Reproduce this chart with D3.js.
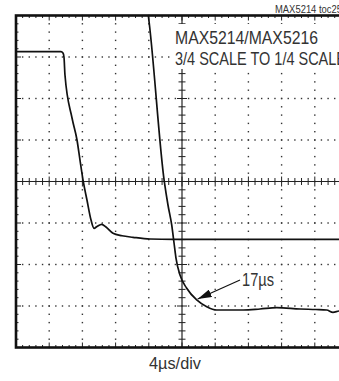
<!DOCTYPE html>
<html>
<head>
<meta charset="utf-8">
<script src="https://cdn.jsdelivr.net/npm/d3@7"></script>
<style>
  html, body { margin: 0; padding: 0; background: #fff; }
  svg { display: block; }
  .lbl { font-family: "Liberation Sans", Arial, sans-serif; fill: #333; }
</style>
</head>
<body>
<svg id="chart" width="339" height="381"></svg>
<script>
// Horizontal: 4 µs per division, 10 divisions. Vertical: 8 divisions.
const timeDomain = [0, 40];
const divDomain = [-4, 4];
const timePerDiv = 4;
const minorPerDiv = 5;

// Trace 1: output stepping from 3/4 to 1/4 scale (time µs, divisions)
const trace1Time = [0, 5.42, 5.66, 5.78, 5.90, 6.75, 7.35, 7.71, 8.11, 8.55, 9.04, 9.40, 9.76, 10.33, 10.84, 11.69, 12.77, 14.10, 16.14, 18.92, 30.0, 40];
const trace1Value = [3.128, 3.128, 3.096, 3.0, 2.566, 1.53, 1.0, 0.518, -0.005, -0.446, -0.928, -1.128, -1.084, -1.031, -1.096, -1.248, -1.308, -1.345, -1.386, -1.393, -1.393, -1.393];

// Trace 2: magnified settling waveform
const trace2Time = [15.80, 15.94, 17.87, 18.31, 18.76, 19.04, 19.28, 19.76, 20.57, 21.77, 22.98, 24.18, 27.38, 29.40, 31.41, 34.22, 36.14, 37.43, 38.19, 38.92, 40];
const trace2Value = [4.2, 4.0, -0.005, -0.566, -1.048, -1.482, -1.851, -2.253, -2.573, -2.855, -3.017, -3.096, -3.096, -3.072, -3.041, -3.072, -3.084, -3.096, -3.152, -3.120, -3.108];

// Settling-time annotation
const settleLabel = "17µs";
const arrowFrom = [26.99, -2.373];
const arrowTo = [21.89, -2.831];

const titleLines = ["MAX5214/MAX5216", "3/4 SCALE TO 1/4 SCALE"];
const figureTag = "MAX5214 toc25";
const xScaleLabel = "4µs/div";

const svg = d3.select("#chart");
const x = d3.scaleLinear().domain(timeDomain).range([16, 348]);
const y = d3.scaleLinear().domain(divDomain).range([347.5, 15.5]);

const [x0, x1] = x.range();
const [y1, y0] = y.range();

svg.append("defs").append("clipPath").attr("id", "plot")
  .append("rect").attr("x", x0).attr("y", y0).attr("width", x1 - x0).attr("height", y1 - y0);

const majorT = d3.range(timeDomain[0], timeDomain[1] + 0.001, timePerDiv);
const majorV = d3.range(divDomain[0], divDomain[1] + 0.001, 1);
const minorT = d3.range(0, 10 * minorPerDiv + 1).map(i => i * timePerDiv / minorPerDiv);
const minorV = d3.range(0, 8 * minorPerDiv + 1).map(i => divDomain[0] + i / minorPerDiv);

const grid = svg.append("g").attr("fill", "#333");
// dotted horizontal grid lines
majorV.filter(v => v !== 0 && v !== divDomain[0] && v !== divDomain[1]).forEach(v => {
  grid.selectAll(null).data(minorT).enter().append("rect")
    .attr("x", d => x(d) - 0.7).attr("y", y(v) - 0.7).attr("width", 1.4).attr("height", 1.4);
});
// dotted vertical grid lines
majorT.filter(t => t !== 20 && t !== timeDomain[0] && t !== timeDomain[1]).forEach(t => {
  grid.selectAll(null).data(minorV).enter().append("rect")
    .attr("x", x(t) - 0.7).attr("y", d => y(d) - 0.7).attr("width", 1.4).attr("height", 1.4);
});

const axes = svg.append("g").attr("stroke", "#222").attr("fill", "none");
const isMajorT = t => Math.abs(t / timePerDiv - Math.round(t / timePerDiv)) < 1e-6;
const isMajorV = v => Math.abs(v - Math.round(v)) < 1e-6;

// centre cross-hair axes with ticks
axes.append("line").attr("x1", x0).attr("x2", x1).attr("y1", y(0)).attr("y2", y(0)).attr("stroke-width", 1.2);
axes.append("line").attr("x1", x(20)).attr("x2", x(20)).attr("y1", y0).attr("y2", y1).attr("stroke-width", 1.2);
axes.selectAll(null).data(minorT).enter().append("line")
  .attr("x1", d => x(d)).attr("x2", d => x(d))
  .attr("y1", d => y(0) - (isMajorT(d) ? 5 : 3.5)).attr("y2", d => y(0) + (isMajorT(d) ? 5 : 3.5))
  .attr("stroke-width", 1);
axes.selectAll(null).data(minorV).enter().append("line")
  .attr("y1", d => y(d)).attr("y2", d => y(d))
  .attr("x1", d => x(20) - (isMajorV(d) ? 5 : 3.5)).attr("x2", d => x(20) + (isMajorV(d) ? 5 : 3.5))
  .attr("stroke-width", 1);

// white panels behind the lettering inside the graticule
svg.append("rect").attr("x", 171).attr("y", 24).attr("width", 180).attr("height", 45).attr("fill", "#fff");
svg.append("rect").attr("x", 240).attr("y", 268).attr("width", 36).attr("height", 23).attr("fill", "#fff");

// border ticks
axes.raise();
const borderTicks = svg.append("g").attr("stroke", "#222");
borderTicks.selectAll(null).data(minorT).enter().append("line")
  .attr("x1", d => x(d)).attr("x2", d => x(d))
  .attr("y1", y0).attr("y2", d => y0 + (isMajorT(d) ? 5 : 2.5)).attr("stroke-width", 1);
borderTicks.selectAll(null).data(minorT).enter().append("line")
  .attr("x1", d => x(d)).attr("x2", d => x(d))
  .attr("y1", y1).attr("y2", d => y1 - (isMajorT(d) ? 5 : 2.5)).attr("stroke-width", 1);
borderTicks.selectAll(null).data(minorV).enter().append("line")
  .attr("y1", d => y(d)).attr("y2", d => y(d))
  .attr("x1", x0).attr("x2", d => x0 + (isMajorV(d) ? 5 : 2.5)).attr("stroke-width", 1);
axes.lower(); grid.lower();

// frame
svg.append("rect").attr("x", x0).attr("y", y0).attr("width", x1 - x0).attr("height", y1 - y0)
  .attr("fill", "none").attr("stroke", "#111").attr("stroke-width", 2.6);

// traces
const line = d3.line().x(d => x(d[0])).y(d => y(d[1])).curve(d3.curveMonotoneX);
const traces = svg.append("g").attr("clip-path", "url(#plot)")
  .attr("fill", "none").attr("stroke", "#111").attr("stroke-linejoin", "round");
traces.append("path").datum(d3.zip(trace1Time, trace1Value)).attr("d", line).attr("stroke-width", 1.7);
traces.append("path").datum(d3.zip(trace2Time, trace2Value)).attr("d", line).attr("stroke-width", 1.7);

// arrow annotation
svg.select("defs").append("marker").attr("id", "head")
  .attr("viewBox", "0 0 14 8").attr("refX", 14).attr("refY", 4)
  .attr("markerUnits", "userSpaceOnUse").attr("markerWidth", 14).attr("markerHeight", 8)
  .attr("orient", "auto")
  .append("path").attr("d", "M0,0 L14,4 L0,8 Z").attr("fill", "#111");
svg.append("line")
  .attr("x1", x(arrowFrom[0])).attr("y1", y(arrowFrom[1]))
  .attr("x2", x(arrowTo[0])).attr("y2", y(arrowTo[1]))
  .attr("stroke", "#111").attr("stroke-width", 1.2).attr("marker-end", "url(#head)");

// condensed lettering
function label(txt, px, py, size, width, anchor) {
  return svg.append("text").attr("class", "lbl")
    .attr("x", px).attr("y", py).attr("font-size", size)
    .attr("text-anchor", anchor || "start")
    .attr("textLength", width).attr("lengthAdjust", "spacingAndGlyphs")
    .text(txt);
}

label(settleLabel, x(arrowFrom[0]) + 2, 286, 18.5, 32);
label(titleLines[0], 175, 43.5, 18.5, 143);
label(titleLines[1], 175, 64.5, 18.5, 171);
label(figureTag, 275, 12.5, 10.5, 67).attr("fill", "#444");
label(xScaleLabel, 175, 369, 17, 52, "middle");
</script>
</body>
</html>
